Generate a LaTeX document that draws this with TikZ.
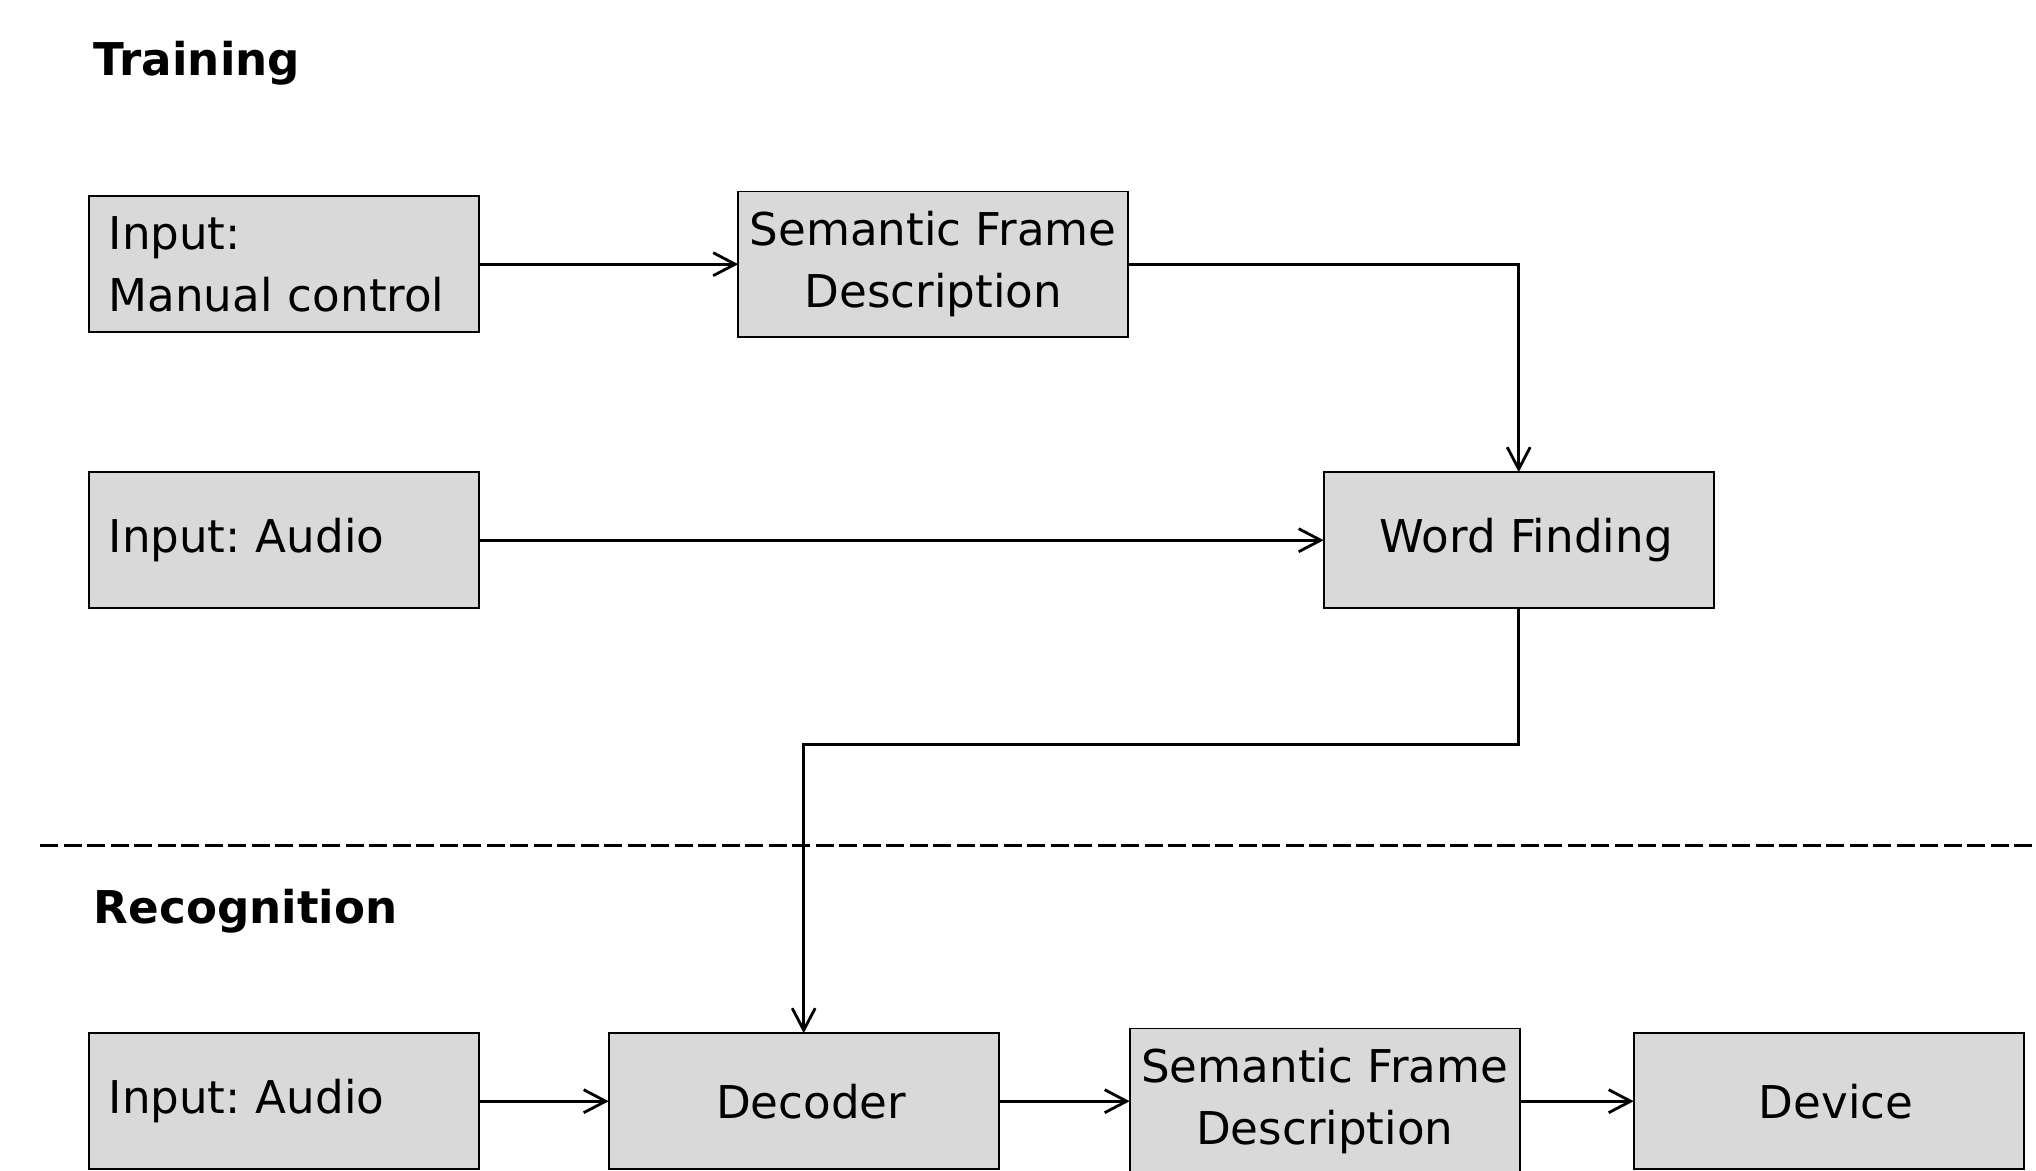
\documentclass[tikz,border=0pt]{standalone}
\usepackage{fontspec}
\setmainfont{DejaVu Sans}
\usepackage{xcolor}
\usepackage{tikz}
\usetikzlibrary{arrows.meta, positioning}

\definecolor{boxgray}{HTML}{D9D9D9}
\frenchspacing

\begin{document}
\begin{tikzpicture}[
    stagebox/.style={
        rectangle,
        draw,
        line width=1pt,
        fill=boxgray,
        align=center,
        outer sep=0pt,
        minimum width=7.8cm,
        minimum height=2.72cm,
        inner xsep=0.2cm,
        inner ysep=0.4cm,
        font=\fontsize{25.7}{35.2}\selectfont
    },
    inputbox/.style={
        stagebox,
        align=left,
        text width=7.0cm,
        inner xsep=0.4cm
    },
    heading/.style={anchor=west, inner sep=0pt, font=\fontsize{25.7}{35.2}\selectfont\bfseries},
    arrow/.style={-{Straight Barb[length=0.44cm, width=0.46cm]}, line width=1.6pt}
]

\clip (0,0) rectangle (40.72,-23.4);

% training
\node[heading] (training) at (1.87,-1.26) {Training};

\node[inputbox] (manual) at (5.674,-5.284) {Input:\\Manual control};
\node[stagebox, right=5.19cm of manual] (frametrain) {Semantic Frame\\Description};
\node[inputbox, below=2.8cm of manual] (audiotrain) {Input: Audio};
\node[stagebox, right=16.9cm of audiotrain] (wordfind) {\hspace*{0.3cm}Word Finding};

\draw[arrow] (manual) -- (frametrain);
\draw[arrow] (frametrain) -| (wordfind);
\draw[arrow] (audiotrain) -- (wordfind);

\draw[dashed, dash pattern=on 0.36cm off 0.11cm, line width=1.6pt] (0.806,-16.91) -- (40.72,-16.91);

% recognition
\node[heading] (recognition) at (1.87,-18.22) {Recognition};

\node[inputbox, below=8.5cm of audiotrain] (audiorec) {Input: Audio};
\node[stagebox, right=2.6cm of audiorec] (decoder) {\hspace*{0.3cm}Decoder};
\node[stagebox, right=2.62cm of decoder] (framerec) {Semantic Frame\\Description};
\node[stagebox, right=2.28cm of framerec] (device) {\hspace*{0.3cm}Device};

\draw[arrow] (wordfind.south) -- ++(0,-2.73) -| (decoder.north);
\draw[arrow] (audiorec) -- (decoder);
\draw[arrow] (decoder) -- (framerec);
\draw[arrow] (framerec) -- (device);

\end{tikzpicture}
\end{document}
